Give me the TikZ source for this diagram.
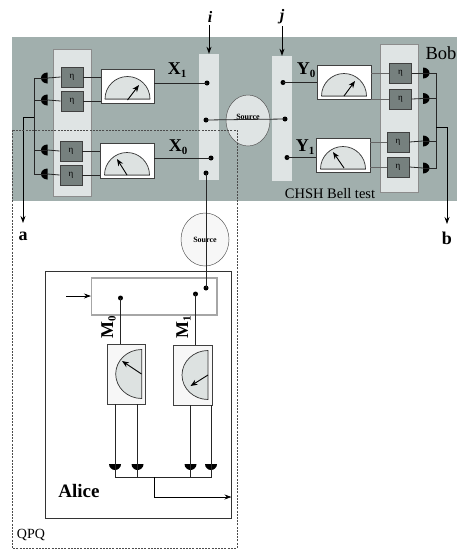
\documentclass[tikz,border=0pt]{standalone}
\usepackage{fontspec}
\setmainfont{Liberation Serif}
\usetikzlibrary{arrows.meta,shapes.geometric}
\definecolor{panelgray}{HTML}{A1AFAD}
\definecolor{lightpanel}{HTML}{DFE4E4}
\definecolor{etagray}{HTML}{76807E}
\definecolor{dialfill}{HTML}{DDE2E1}
\tikzset{
  wire/.style={line width=0.8pt,draw=black!85},
  arr/.style={line width=0.8pt,draw=black,-{Stealth[length=7pt,width=5pt]}},
  needle/.style={line width=0.9pt,draw=black,-{Stealth[length=7pt,width=5.5pt]}},
  dotn/.style={circle,fill=black,inner sep=0pt,minimum size=5pt},
  etabox/.style={draw=black!75,line width=0.9pt,fill=etagray,inner sep=0pt,minimum width=22pt,minimum height=20pt,font=\fontsize{9}{9}\selectfont},
  meter/.style={draw=black!75,line width=0.9pt,fill=white,inner sep=0pt},
  vmeter/.style={draw=black!75,line width=0.9pt,fill=black!3,inner sep=0pt,minimum width=38.5pt,minimum height=60pt},
  barn/.style={fill=lightpanel,inner sep=0pt,minimum width=20pt},
  sourcen/.style={draw=black!65,line width=0.5pt,ellipse,inner sep=0pt,font=\fontsize{8}{8}\selectfont\bfseries},
  lab/.style={inner sep=0pt,font=\fontsize{18}{18}\selectfont\bfseries},
  dial/.style={draw=black!80,line width=0.7pt,fill=dialfill},
}
\newcommand{\sublab}[2]{#1\raisebox{-0.3ex}{\fontsize{11}{11}\selectfont #2}}
\newcommand{\detL}[3]{\coordinate (#1) at (#2,#3);\fill (#2,#3+5.5) arc[start angle=90,end angle=270,x radius=6.5,y radius=5.5] -- cycle;}
\newcommand{\detR}[3]{\coordinate (#1) at (#2,#3);\fill (#2,#3-5.5) arc[start angle=-90,end angle=90,x radius=6.5,y radius=5.5] -- cycle;}
\newcommand{\detD}[3]{\coordinate (#1) at (#2,#3);\fill (#2+6,#3) arc[start angle=0,end angle=180,x radius=6,y radius=6] -- cycle;}
\newcommand{\dialH}[3]{\draw[dial] (#1-22.5,#2) arc[start angle=180,end angle=360,x radius=22.5,y radius=22.5] -- cycle;\draw[line width=1.4pt,draw=black!45] (#1-22.5,#2+.5) -- (#1+22.5,#2+.5);}
\newcommand{\dialV}[2]{\draw[dial] (#1,#2-24.5) arc[start angle=270,end angle=90,x radius=26,y radius=24.5] -- cycle;}
\begin{document}
\begin{tikzpicture}[x=1pt,y=1pt,yscale=-1]
\useasboundingbox (0,0) rectangle (469,549);
% panels
\fill[panelgray] (12,37) rectangle (457,201);
\draw[fill=lightpanel,draw=black!45,line width=0.6pt] (53,49) rectangle (91,196);
\draw[fill=lightpanel,draw=black!45,line width=0.6pt] (380,44) rectangle (418,192);
% bars
\node[barn,minimum height=126pt] (bari) at (209,117) {};
\node[barn,minimum height=125pt] (barj) at (282,118.5) {};
% sources
\node[sourcen,fill=lightpanel,minimum width=44pt,minimum height=51pt] (srcA) at (248,120.5) {\raisebox{7pt}{Source}};
\node[sourcen,fill=black!3,minimum width=48pt,minimum height=53pt] (srcB) at (205,239.5) {Source};
% eta boxes left
\node[etabox] (e1) at (72,77) {η};
\node[etabox] (e2) at (72,101) {η};
\node[etabox] (e3) at (71,151) {η};
\node[etabox] (e4) at (71,175) {η};
% eta boxes right
\node[etabox] (e5) at (400.5,73) {η};
\node[etabox] (e6) at (400.5,99) {η};
\node[etabox] (e7) at (398,142) {η};
\node[etabox] (e8) at (398,167) {η};
% meters
\node[meter,minimum width=53pt,minimum height=34pt] (mx1) at (127.5,86) {};
\node[meter,minimum width=54pt,minimum height=35pt] (mx0) at (127,160.5) {};
\node[meter,minimum width=54pt,minimum height=34pt] (my0) at (344,82) {};
\node[meter,minimum width=54pt,minimum height=34pt] (my1) at (343,155) {};
\dialH{127.5}{99}{}
\dialH{127}{175}{}
\dialH{344}{96}{}
\dialH{343}{169}{}
\coordinate (n1a) at (127.5,100); \coordinate (n1b) at (139,85);
\coordinate (n2a) at (127,175); \coordinate (n2b) at (117,159);
\coordinate (n3a) at (344,96); \coordinate (n3b) at (355,81);
\coordinate (n4a) at (344,168); \coordinate (n4b) at (333,152);
\draw[needle] (n1a) -- (n1b);
\draw[needle] (n2a) -- (n2b);
\draw[needle] (n3a) -- (n3b);
\draw[needle] (n4a) -- (n4b);
% bar dots
\node[dotn] (dx1) at (207,83) {};
\node[dotn] (dc) at (206,120) {};
\node[dotn] (dx0) at (211,158) {};
\node[dotn] (ds) at (206,173) {};
\node[dotn] (dy0) at (283,82.5) {};
\node[dotn] (dcr) at (285,119) {};
\node[dotn] (dy1) at (287,157.5) {};
\draw[wire] (mx1.east |- dx1) -- (dx1.center);
\draw[wire] (mx0.east |- dx0) -- (dx0.center);
\draw[wire] (dc.center) -- (dcr.center);
\draw[wire] (dy0.center) -- (my0.west |- dy0);
\draw[wire] (dy1.center) -- (my1.west |- dy1);
% eta to meter
\draw[wire] (e1.east) -- (mx1.west |- e1.east);
\draw[wire] (e2.east) -- (mx1.west |- e2.east);
\draw[wire] (e3.east) -- (mx0.west |- e3.east);
\draw[wire] (e4.east) -- (mx0.west |- e4.east);
\draw[wire,draw=black!60] (my0.east |- e5.west) -- (e5.west);
\draw[wire,draw=black!60] (my0.east |- e6.west) -- (e6.west);
\draw[wire,draw=black!60] (my1.east |- e7.west) -- (e7.west);
\draw[wire,draw=black!60] (my1.east |- e8.west) -- (e8.west);
% detectors left
\detL{dl1}{47.5}{78}
\detL{dl2}{47.5}{100}
\detL{dl3}{47.5}{150}
\detL{dl4}{47.5}{174}
\draw[wire] (dl1) -- (e1.west);
\draw[wire] (dl2) -- (e2.west);
\draw[wire] (dl3) -- (e3.west);
\draw[wire] (dl4) -- (e4.west);
\coordinate (busLt) at (34,78);
\coordinate (busLb) at (34,174);
\coordinate (busLm) at (34,117);
\coordinate (tapL) at (23,117);
\coordinate (endA) at (23,223);
\draw[wire] (dl1) -- (busLt) -- (busLb) -- (dl4);
\draw[wire] (dl2) -- (busLt |- dl2);
\draw[wire] (dl3) -- (busLt |- dl3);
\draw[arr] (busLm) -- (tapL) -- (endA);
% detectors right
\detR{dr1}{423}{73}
\detR{dr2}{423}{98.5}
\detR{dr3}{423}{141}
\detR{dr4}{423}{168}
\draw[wire] (e5.east) -- (dr1);
\draw[wire] (e6.east) -- (dr2);
\draw[wire] (e7.east) -- (dr3);
\draw[wire] (e8.east) -- (dr4);
\coordinate (busRt) at (436,73);
\coordinate (busRb) at (436,168);
\coordinate (busRm) at (436,127);
\coordinate (tapR) at (447,127);
\coordinate (endB) at (447,224);
\draw[wire] (dr1) -- (busRt) -- (busRb) -- (dr4);
\draw[wire] (dr2) -- (busRt |- dr2);
\draw[wire] (dr3) -- (busRt |- dr3);
\draw[arr] (busRm) -- (tapR) -- (endB);
% labels
\node[lab] (lx1) at (177,70) {\sublab{X}{1}};
\node[lab] (lx0) at (178,147) {\sublab{X}{0}};
\node[lab] (ly0) at (306,70) {\sublab{Y}{0}};
\node[lab] (ly1) at (305,147) {\sublab{Y}{1}};
\node[lab,font=\fontsize{16}{16}\selectfont\bfseries\itshape] (li) at (210,17) {i};
\node[lab,font=\fontsize{16}{16}\selectfont\bfseries\itshape] (lj) at (282,17) {j};
\draw[arr] (li.south -| bari) ++(0,2) -- (bari.north);
\draw[arr] (lj.south -| barj) ++(0,2) -- (barj.north);
\node[inner sep=0pt,font=\fontsize{18.5}{18.5}\selectfont] (bob) at (441,53) {Bob};
\node[inner sep=0pt,font=\fontsize{14.5}{14.5}\selectfont] (chsh) at (330,194) {CHSH Bell test};
\node[lab] (la) at (23,236) {a};
\node[lab] (lb) at (447,238) {b};
% dashed QPQ
\draw[draw=black!70,line width=0.5pt,dash pattern=on 2pt off 1.2pt] (12,130) rectangle (237,548);
\node[inner sep=0pt,font=\fontsize{14}{14}\selectfont] (qpq) at (31,535) {QPQ};
% Alice
\node[draw=black!80,line width=0.9pt,inner sep=0pt,minimum width=185.5pt,minimum height=247pt] (alice) at (138.25,394.5) {};
\node[draw=black!35,line width=1.1pt,inner sep=0pt,fill=white,minimum width=125.5pt,minimum height=37pt] (sel) at (154.25,296.5) {};
\coordinate (inA) at (66,296);
\draw[arr] (inA) -- (sel.west |- inA);
\node[dotn] (dm0) at (120.5,298) {};
\node[dotn] (dm1) at (195.5,294) {};
\node[dotn] (dsel) at (206,288) {};
\draw[wire] (ds.center) -- (dsel.center);
\node[vmeter] (m0) at (126.25,374) {};
\node[vmeter] (m1) at (192.75,375) {};
\draw[wire] (dm0.center) -- (m0.north -| dm0);
\draw[wire] (dm1.center) -- (m1.north -| dm1);
\dialV{141.7}{374}
\dialV{208}{375}
\coordinate (n5a) at (141.5,374); \coordinate (n5b) at (122,361);
\coordinate (n6a) at (208,375); \coordinate (n6b) at (190.5,386);
\draw[needle] (n5a) -- (n5b);
\draw[needle] (n6a) -- (n6b);
\node[lab,rotate=90,anchor=center] (lm0) at (108.5,327) {\sublab{M}{0}};
\node[lab,rotate=90,anchor=center] (lm1) at (183.5,327) {\sublab{M}{1}};
% Alice detectors
\detD{da1}{115}{464}
\detD{da2}{137.5}{464}
\detD{da3}{190.5}{464}
\detD{da4}{211}{464}
\draw[wire] (m0.south -| da1) -- (da1);
\draw[wire] (m0.south -| da2) -- (da2);
\draw[wire] (m1.south -| da3) -- (da3);
\draw[wire] (m1.south -| da4) -- (da4);
\coordinate (busAl) at (115,477);
\coordinate (busAr) at (211,477);
\coordinate (busAm) at (154,477);
\coordinate (busAd) at (154,497);
\draw[wire] (da1) -- (busAl) -- (busAr) -- (da4);
\draw[wire] (da2) -- (busAl -| da2);
\draw[wire] (da3) -- (busAl -| da3);
\draw[arr] (busAm) -- (busAd) -- (alice.east |- busAd);
\node[inner sep=0pt,font=\fontsize{19}{19}\selectfont\bfseries] (lalice) at (79,491) {Alice};
\end{tikzpicture}
\end{document}
